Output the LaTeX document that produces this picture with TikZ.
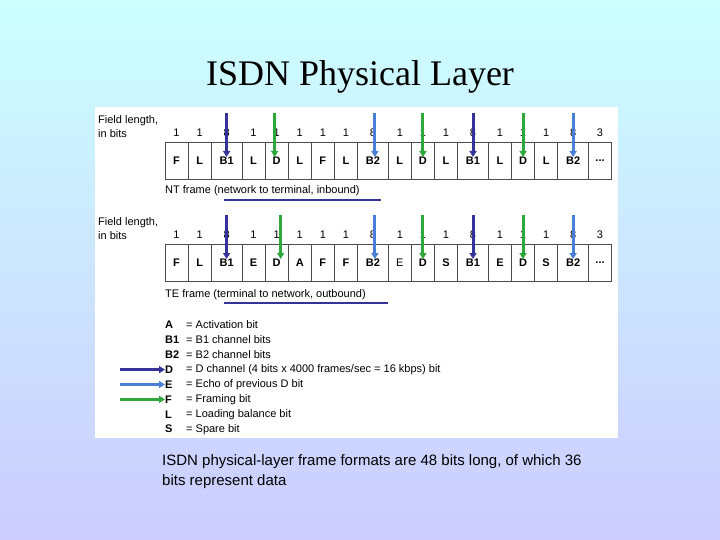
\documentclass[tikz,border=0pt]{standalone}
\usepackage{fontspec}
\setmainfont{Liberation Sans}
\newfontfamily\titlefont{Liberation Serif}
\usetikzlibrary{arrows.meta}
\definecolor{dkb}{HTML}{333399}
\definecolor{ltb}{HTML}{4A7FD8}
\definecolor{grn}{HTML}{2EA83A}
\newcommand\threedts{.\kern0pt.\kern0pt.}
\begin{document}
\begin{tikzpicture}[x=1pt,y=-1pt,
 cell/.style={draw=black!70,line width=0.8pt,minimum height=37pt,inner sep=0pt,font=\bfseries\fontsize{11}{12}\selectfont},
 num/.style={font=\fontsize{11}{12}\selectfont,inner sep=0pt},
 lbl/.style={font=\fontsize{11}{13}\selectfont,inner sep=0pt,anchor=west},
 arr/.style={line width=3pt,-{Triangle[length=6pt,width=7pt]}},
 uline/.style={line width=2.5pt,dkb}]
\shade[top color={rgb,255:red,204;green,255;blue,255},bottom color={rgb,255:red,204;green,204;blue,255}] (0,0) rectangle (720,540);
\useasboundingbox (0,0) rectangle (720,540);
\node[font=\titlefont\fontsize{36}{40}\selectfont] (title) at (360,77) {ISDN Physical Layer};
\fill[white] (95,107) rectangle (618,438);
% frames
\def\drawframe#1#2#3{%
  \foreach \lab/\n [count=\i, remember=\x as \px (initially 165)] in {#2} {
    \pgfmathsetmacro\w{\n==8 ? 30.8 : 23.1}
    \pgfmathsetmacro\x{\px+\w}
    \node[cell,minimum width=\w pt] (#1\i) at ({(\px+\x)/2},#3) {\lab};
    \node[num] (#1n\i) at ({(\px+\x)/2},#3-28) {\n};
  }}
\drawframe{a}{F/1,L/1,B1/8,L/1,D/1,L/1,F/1,L/1,B2/8,L/1,D/1,L/1,B1/8,L/1,D/1,L/1,B2/8,\threedts/3}{161}
\drawframe{b}{F/1,L/1,B1/8,E/1,D/1,A/1,F/1,F/1,B2/8,\textmd{E}/1,D/1,S/1,B1/8,E/1,D/1,S/1,B2/8,\threedts/3}{262.5}
\node[lbl,align=left,font=\fontsize{11}{14}\selectfont] (fa) at (98,127) {Field length,\\in bits};
\node[lbl,align=left,font=\fontsize{11}{14}\selectfont] (fb) at (98,229) {Field length,\\in bits};
\node[lbl] (nt) at (165,191) {NT frame (network to terminal, inbound)};
\node[lbl] (te) at (165,295) {TE frame (terminal to network, outbound)};
\coordinate (u1a) at (224,200); \coordinate (u1b) at (381,200);
\coordinate (u2a) at (224,303); \coordinate (u2b) at (388,303);
\draw[uline] (u1a) -- (u1b);
\draw[uline] (u2a) -- (u2b);
% arrows
\foreach \c/\col/\dx in {3/dkb/0,5/grn/-2,9/ltb/2,11/grn/0,13/dkb/0,15/grn/0,17/ltb/0} {
  \coordinate (ta\c) at ([xshift=\dx pt]a\c.north |- 0,113);
  \draw[arr,\col] (ta\c) -- ([xshift=\dx pt]a\c.center |- 0,157);
}
\foreach \c/\col/\dx in {3/dkb/0,5/grn/4,9/ltb/2,11/grn/0,13/dkb/0,15/grn/0,17/ltb/0} {
  \coordinate (tb\c) at ([xshift=\dx pt]b\c.north |- 0,215);
  \draw[arr,\col] (tb\c) -- ([xshift=\dx pt]b\c.center |- 0,259);
}
% legend
\foreach \k/\t [count=\i] in {A/{Activation bit},B1/{B1 channel bits},B2/{B2 channel bits},D/{D channel (4 bits x 4000 frames/sec = 16 kbps) bit},E/{Echo of previous D bit},F/{Framing bit},L/{Loading balance bit},S/{Spare bit}} {
  \node[lbl,font=\bfseries\fontsize{11}{12}\selectfont] (k\i) at (165,{310+\i*14.9}) {\k};
  \node[lbl] (d\i) at (186,{310+\i*14.9}) {= \t};
}
\foreach \i/\col in {4/dkb,5/ltb,6/grn} {
  \coordinate (s\i) at (120,{310+\i*14.9});
  \draw[arr,\col,line width=2.5pt] (s\i) -- (k\i.west);
}
\node[anchor=north west,align=left,inner sep=0pt,font=\fontsize{15}{20}\selectfont] (foot) at (162,454) {ISDN physical-layer frame formats are 48 bits long, of which 36\\bits represent data};
\end{tikzpicture}
\end{document}
